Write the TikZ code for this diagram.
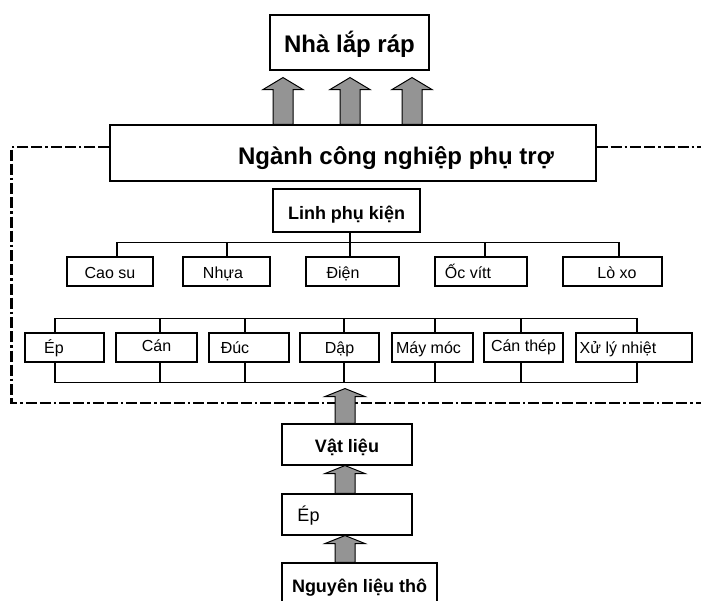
\documentclass[tikz,border=0pt]{standalone}
\usepackage{fontspec}
\setmainfont{Liberation Sans}
\usetikzlibrary{calc}
\tikzset{
  box/.style={draw, line width=1.1pt, inner sep=0pt, anchor=center, text height=12pt, text depth=0pt, font=\fontsize{16}{18}\selectfont},
  bigbox/.style={box, font=\bfseries\fontsize{24}{28}\selectfont},
  midbox/.style={box, font=\bfseries\fontsize{18}{21}\selectfont},
  link/.style={line width=1.1pt},
  frame/.style={line width=2.4pt, dash pattern=on 11pt off 3pt on 11pt off 3pt on 2.5pt off 3pt},
  blockarrow/.style={draw, line width=1pt, fill=black!42, line join=miter},
}
\newcommand{\blockarr}[3]{\draw[blockarrow] let \p1=(#1), \p2=(#2) in
  (\x1-10pt,\y1) -- (\x1-10pt,\y2-#3) -- (\x1-20pt,\y2-#3) -- (\x1,\y2) --
  (\x1+20pt,\y2-#3) -- (\x1+10pt,\y2-#3) -- (\x1+10pt,\y1) -- cycle;}
\begin{document}
\begin{tikzpicture}[x=1pt,y=-1pt]
\useasboundingbox (0,0) rectangle (701,600);

% main boxes
\node[bigbox, text height=20.5pt, minimum width=159pt, minimum height=55pt] (nha) at (349.5,42.5) {Nhà lắp ráp};
\node[bigbox, text height=22pt, minimum width=486pt, minimum height=56pt] (ngr) at (353,153) {\hspace*{86pt}Ngành công nghiệp phụ trợ};
\node[midbox, text height=17pt, minimum width=147pt, minimum height=43pt] (lpk) at (346.5,210.5) {Linh phụ kiện};

% row 1
\node[box, text height=13pt, minimum width=86pt, minimum height=29pt] (caosu) at (110,271.5) {Cao su};
\node[box, text height=13pt, minimum width=87pt, minimum height=29pt] (nhua) at (226.5,271.5) {Nhựa\hspace*{7pt}};
\node[box, text height=13pt, minimum width=93pt, minimum height=29pt] (dien) at (352.5,271.5) {Điện\hspace*{19pt}};
\node[box, text height=13pt, minimum width=92pt, minimum height=29pt] (ocvit) at (481,271.5) {Ốc vítt\hspace*{26pt}};
\node[box, text height=13pt, minimum width=99pt, minimum height=29pt] (loxo) at (612.5,271.5) {\hspace*{9pt}Lò xo};

% row 2
\node[box, minimum width=79pt, minimum height=29pt] (ep1) at (64.5,347.5) {Ép\hspace*{21pt}};
\node[box, minimum width=81pt, minimum height=29pt] (can) at (156.5,347.5) {\raisebox{2pt}{Cán}};
\node[box, minimum width=80pt, minimum height=29pt] (duc) at (249,347.5) {Đúc\hspace*{28pt}};
\node[box, minimum width=79pt, minimum height=29pt] (dap) at (339.5,347.5) {Dập};
\node[box, minimum width=81pt, minimum height=29pt] (may) at (432.5,347.5) {Máy móc\hspace*{8pt}};
\node[box, minimum width=79pt, minimum height=29pt] (canthep) at (523.5,347.5) {\raisebox{2pt}{Cán thép}};
\node[box, minimum width=116pt, minimum height=29pt] (xuly) at (634,347.5) {Xử lý nhiệt\hspace*{32pt}};

% lower chain
\node[midbox, text height=16pt, minimum width=130pt, minimum height=41pt] (vl) at (347,444.5) {Vật liệu};
\node[box, font=\fontsize{18}{21}\selectfont, text height=13pt, minimum width=130pt, minimum height=41pt] (ep2) at (347,514.5) {Ép\hspace*{77pt}};
\node[midbox, text height=14pt, minimum width=155pt, minimum height=44pt] (nl) at (359.5,585) {Nguyên liệu thô};

% frame corners at the picture edge
\coordinate (frTR) at (704,147);
\coordinate (frBR) at (704,403);

% dash-dot frame
\draw[frame] ($(ngr.west)+(0,-6)$) -| ($(ep1.west)+(-13,55.5)$) -- (frBR);
\draw[frame] ($(ngr.east)+(0,-6)$) -- (frTR);

% row 1 tree
\draw[link] ($(lpk.south)+(3.5,0)$) -- ($(dien.north)+(-2.5,0)$);
\draw[link] ($(caosu.north)+(7,0)$) -- ++(0,-14) -| ($(loxo.north)+(6.5,0)$);
\draw[link] ($(nhua.north)+(0.5,0)$) -- ++(0,-14);
\draw[link] ($(ocvit.north)+(4,0)$) -- ++(0,-14);

% row 2 buses
\draw[link] ($(ep1.north)+(-9.5,0)$) -- ++(0,-14) -| ($(xuly.north)+(3,0)$);
\draw[link] ($(ep1.south)+(-9.5,0)$) -- ++(0,20) -| ($(xuly.south)+(3,0)$);
\draw[link] ($(can.north)+(3.5,-14)$) -- ($(can.north)+(3.5,0)$);
\draw[link] ($(can.south)+(3.5,20)$) -- ($(can.south)+(3.5,0)$);
\draw[link] ($(duc.north)+(-4,-14)$) -- ($(duc.north)+(-4,0)$);
\draw[link] ($(duc.south)+(-4,20)$) -- ($(duc.south)+(-4,0)$);
\draw[link] ($(dap.north)+(4.5,-14)$) -- ($(dap.north)+(4.5,0)$);
\draw[link] ($(dap.south)+(4.5,20)$) -- ($(dap.south)+(4.5,0)$);
\draw[link] ($(may.north)+(2.5,-14)$) -- ($(may.north)+(2.5,0)$);
\draw[link] ($(may.south)+(2.5,20)$) -- ($(may.south)+(2.5,0)$);
\draw[link] ($(canthep.north)+(-2.5,-14)$) -- ($(canthep.north)+(-2.5,0)$);
\draw[link] ($(canthep.south)+(-2.5,20)$) -- ($(canthep.south)+(-2.5,0)$);

% block arrows to the assembler
\blockarr{$(ngr.north)+(-70,0)$}{$(nha.south)+(0,7)$}{12pt}
\blockarr{$(ngr.north)+(-3,0)$}{$(nha.south)+(0,7)$}{12pt}
\blockarr{$(ngr.north)+(59,0)$}{$(nha.south)+(0,7)$}{12pt}

% block arrows in the lower chain
\blockarr{$(vl.north)+(-2,0)$}{$(dap.south)+(0,26)$}{8pt}
\blockarr{$(ep2.north)+(-2,0)$}{vl.south}{8pt}
\blockarr{$(nl.north)+(-14.5,0)$}{ep2.south}{8pt}
\end{tikzpicture}
\end{document}
